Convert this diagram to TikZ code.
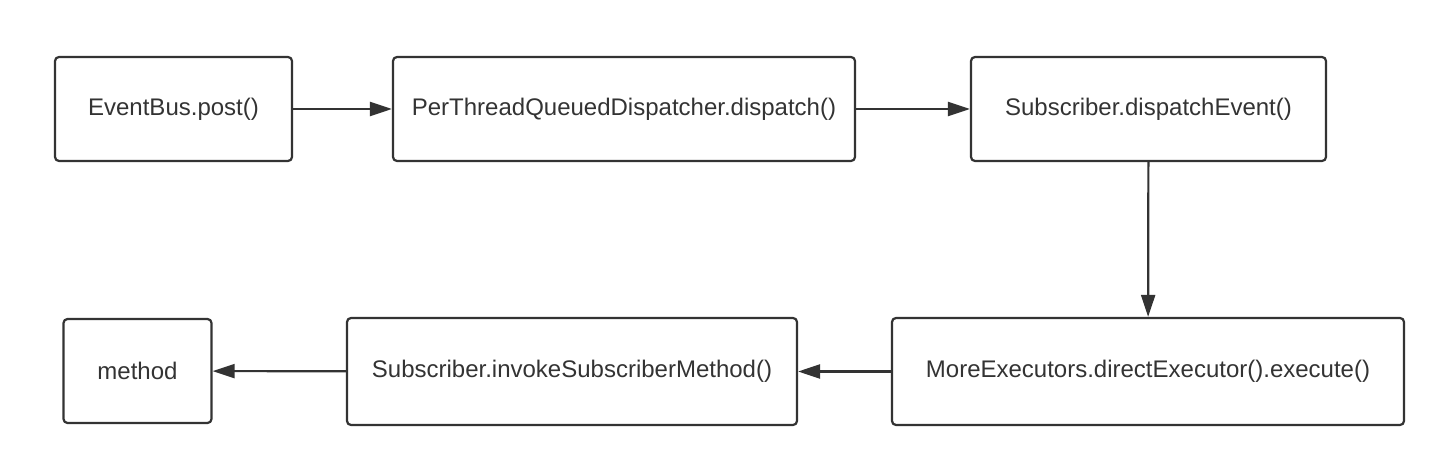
\documentclass[tikz,border=0pt]{standalone}
\usepackage{fontspec}
\setmainfont{Liberation Sans}
\usepackage{tikz}
\usetikzlibrary{positioning, arrows.meta}
\definecolor{ink}{HTML}{333333}

\begin{document}
\begin{tikzpicture}[
        x=0.5pt, y=-0.5pt,
        call/.style={draw=ink, text=ink, line width=1.1pt, rounded corners=2pt, align=center,
            inner sep=0pt, font=\fontsize{12}{14}\selectfont},
        rel/.style={-{Triangle[length=11pt, width=7pt]}, draw=ink, line width=1.1pt}
    ]
        \useasboundingbox (0,0) rectangle (1442,460);

        % top row
        \node[call, minimum width=118.5pt, minimum height=52pt] (post) at (173.5,109) {EventBus.post()};
        \node[call, minimum width=231pt, minimum height=52pt] (disp) at (624,109) {PerThreadQueuedDispatcher.dispatch()};
        \node[call, minimum width=177.5pt, minimum height=52pt] (event) at (1148.5,109) {Subscriber.dispatchEvent()};

        % bottom row
        \node[call, minimum width=256pt, minimum height=53.5pt] (exec) at (1148,371.5) {MoreExecutors.directExecutor().execute()};
        \node[call, minimum width=225pt, minimum height=53.5pt] (invoke) at (572,371.5) {Subscriber.invokeSubscriberMethod()};
        \node[call, minimum width=74pt, minimum height=52pt] (method) at (137.5,371) {method};

        \draw[rel] (post) -- (disp);
        \draw[rel] (disp) -- (event);
        \draw[rel] (event) -- (exec);
        \draw[rel] (exec) -- (invoke);
        \draw[rel] (invoke) -- (method);
    \end{tikzpicture}
\end{document}
